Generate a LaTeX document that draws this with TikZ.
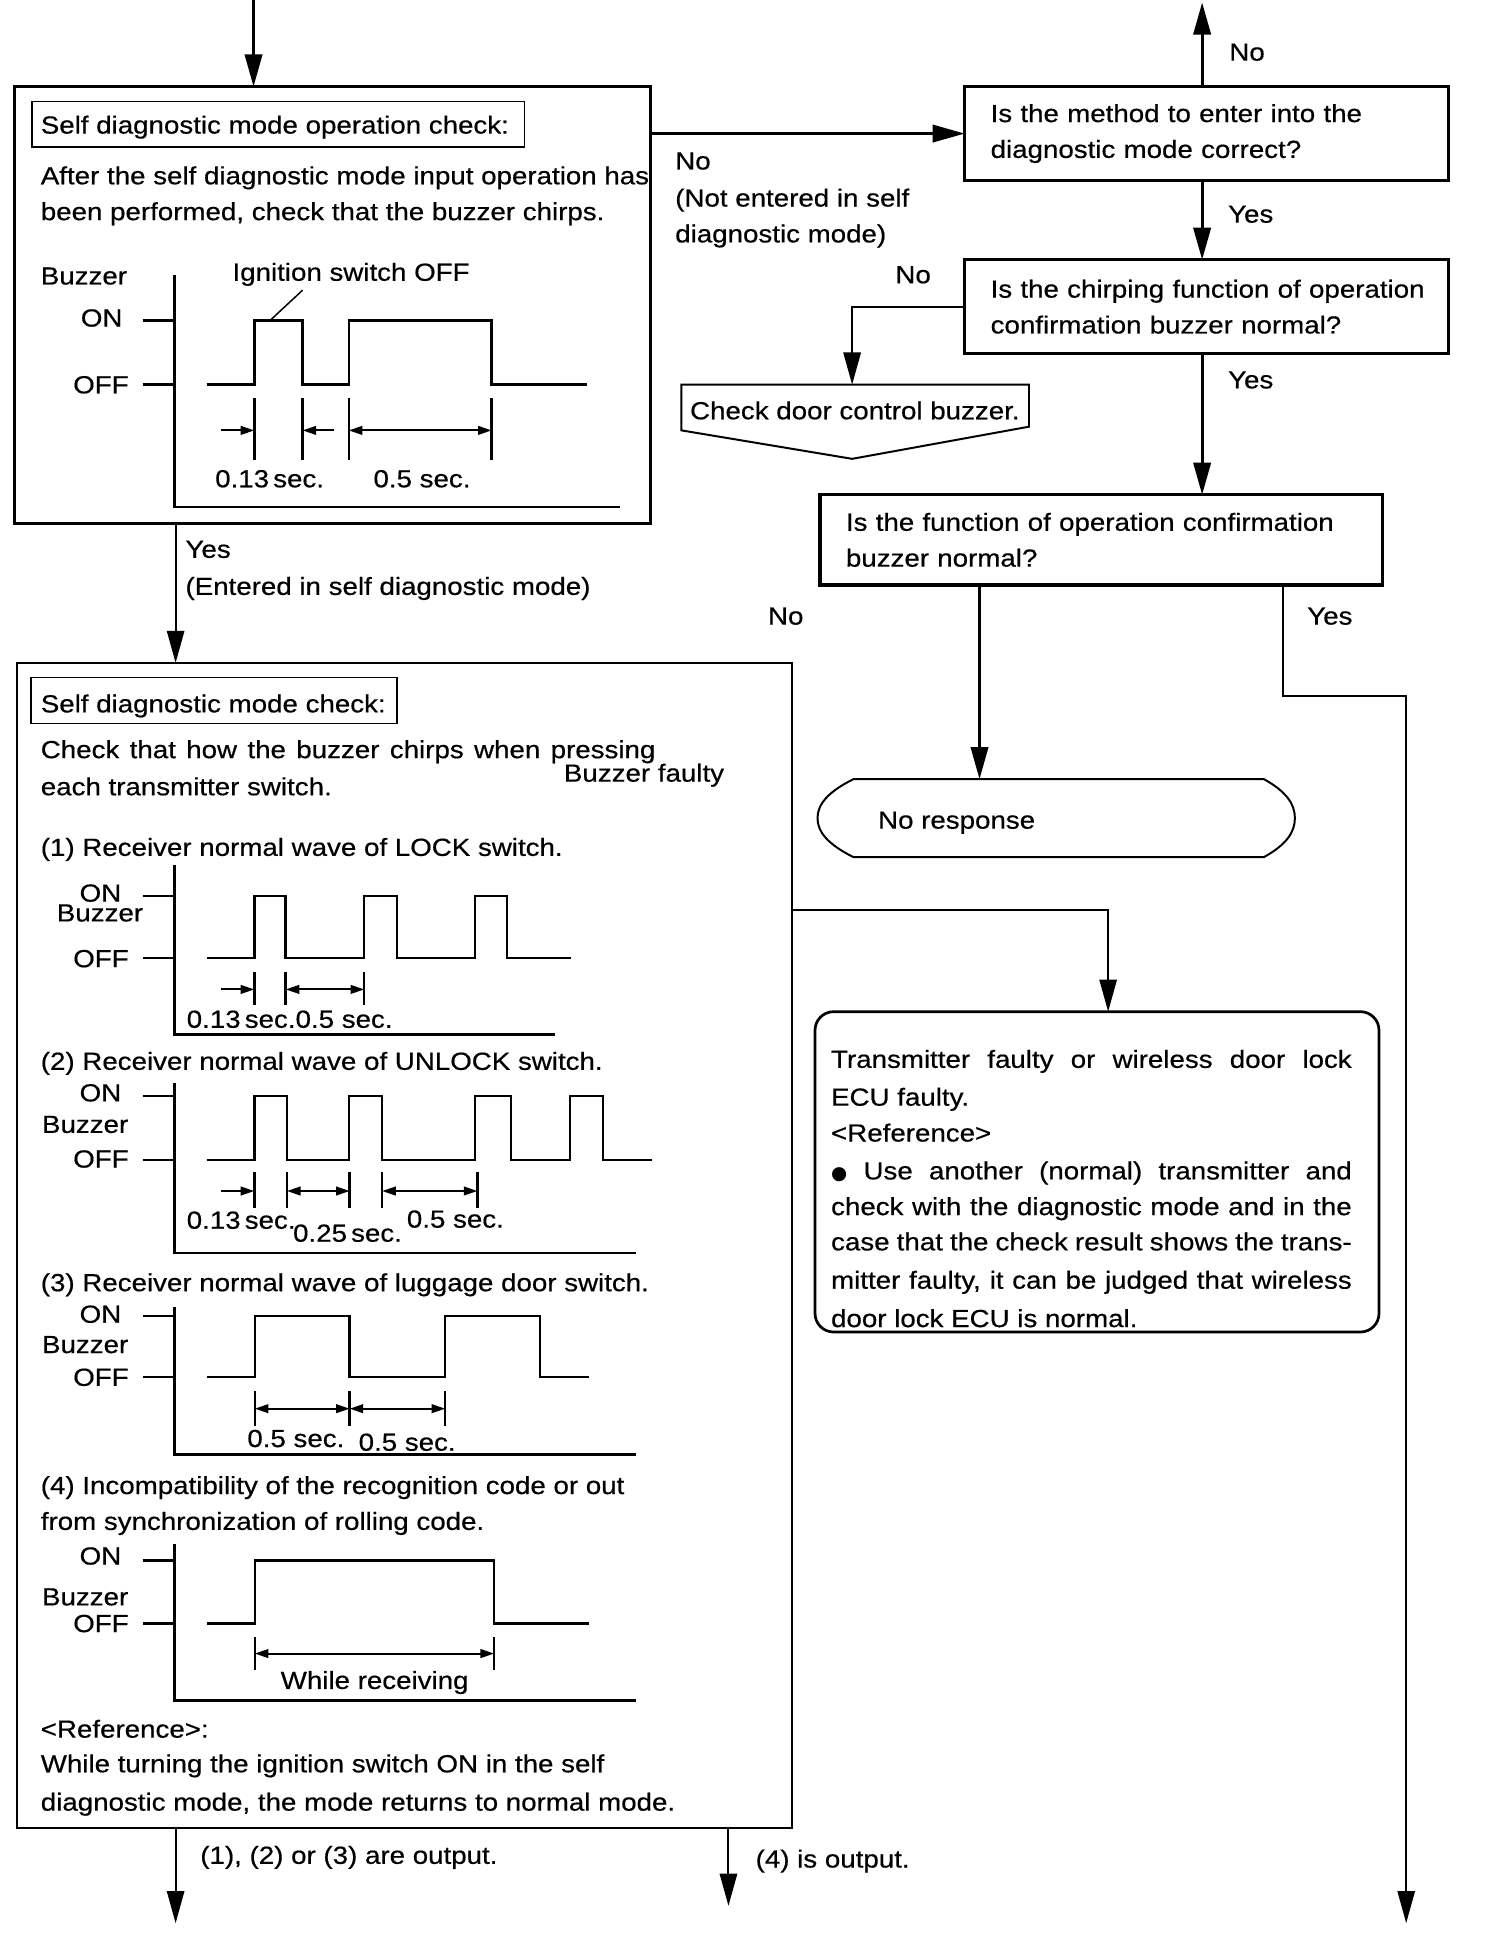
\documentclass[tikz,border=0pt]{standalone}
\usepackage{fontspec}
\setmainfont{Liberation Sans}[FakeStretch=1.12,FakeBold=0.5]
\newfontfamily\dejavu{DejaVu Sans}
\usetikzlibrary{arrows.meta}
\begin{document}
\begin{tikzpicture}[x=1pt,y=-1pt,
 every node/.style={inner sep=0pt, outer sep=0pt, font=\fontsize{20}{29}\selectfont},
 txt/.style={anchor=base west},
 txtr/.style={anchor=base east},
 bigbox/.style={draw, line width=2.6pt, anchor=north west},
 midbox/.style={draw, line width=1.6pt, anchor=north west},
 qbox/.style={draw, line width=2.6pt, anchor=north west, align=left, inner xsep=21pt},
 tbox/.style={draw, line width=1.2pt, anchor=north west},
 flow/.style={line width=2.4pt, -{Triangle[length=26pt,width=14pt]}},
 flowthin/.style={line width=1.6pt, -{Triangle[length=26pt,width=14pt]}},
 plain/.style={line width=1.6pt},
 wave/.style={line width=2pt, line join=miter},
 dim/.style={line width=1.6pt, -{Triangle[length=11pt,width=7pt]}},
 dimb/.style={line width=1.6pt, {Triangle[length=11pt,width=7pt]}-{Triangle[length=11pt,width=7pt]}},
]
\useasboundingbox (0,0) rectangle (1216,1567);

% ---------- boxes ----------
\node[bigbox, minimum width=514, minimum height=353] (b1) at (12,70) {};
\node[tbox, minimum width=398, minimum height=37] (t1) at (26,82) {};
\node[midbox, minimum width=626, minimum height=942] (b2) at (14,536) {};
\node[tbox, minimum width=296, minimum height=37] (t2) at (25,548) {};

\node[qbox, minimum width=391, minimum height=76, text width=349] (q1) at (780,70)
  {\mbox{Is the method to enter into the}\\\mbox{diagnostic mode correct?}};
\node[qbox, minimum width=391, minimum height=76, text width=349] (q2) at (780,210)
  {\mbox{Is the chirping function of operation}\\\mbox{confirmation buzzer normal?}};
\node[qbox, minimum width=455, minimum height=73, text width=413] (q3) at (663,400)
  {\makebox[408pt][s]{Is the function of operation confirmation}\\\mbox{buzzer normal?}};

% check door control buzzer (off-page shape)
\node[minimum width=281, minimum height=37, anchor=north west] (cd) at (551,311) {};
\draw[plain] (551,311) -- (832,311) -- (832,345) -- (689,371) -- (551,348) -- cycle;
\node[txt] (cdtxt) at (558,339) {Check door control buzzer.};

% no response terminal
\node[minimum width=386, minimum height=63, anchor=north west] (nr) at (661,630) {};
\draw[plain] (690,630) -- (1022,630) .. controls (1040,640) and (1047,650) .. (1047,661.5)
  .. controls (1047,673) and (1040,683) .. (1022,693) -- (690,693)
  .. controls (670,683) and (661,673) .. (661,661.5)
  .. controls (661,650) and (670,640) .. (690,630) -- cycle;
\node[txt] (nrtxt) at (710,670) {No response};

% transmitter box
\node[draw, line width=2.2pt, rounded corners=15pt, minimum width=456, minimum height=259, anchor=north west] (tr) at (659,818) {};
\node[txt] (tr1) at (672,863.4) {\makebox[421pt][s]{Transmitter faulty or wireless door lock}};
\node[txt] (tr2) at (672,894) {ECU faulty.};
\node[txt] (tr3) at (672,923) {<Reference>};
\node[txt] (tr4) at (672,953.6) {\makebox[421pt][s]{{\dejavu\fontsize{15}{15}\selectfont ●} Use another (normal) transmitter and}};
\node[txt] (tr5) at (672,982.5) {\makebox[421pt][s]{check with the diagnostic mode and in the}};
\node[txt] (tr6) at (672,1011) {\makebox[421pt][s]{case that the check result shows the trans-}};
\node[txt] (tr7) at (672,1042) {\makebox[421pt][s]{mitter faulty, it can be judged that wireless}};
\node[txt] (tr8) at (672,1073) {door lock ECU is normal.};

% ---------- connectors ----------
\coordinate (in1) at (205,0);
\draw[flow] (in1) -- (in1 |- b1.north);
\draw[flow] (b1.east |- q1.west) -- (q1.west);
\coordinate (cR) at (972,0);
\coordinate (outUp) at (972,2);
\draw[flow] (q1.north -| cR) -- (outUp);
\draw[flow] (q1.south -| cR) -- (q2.north -| cR);
\draw[flow] (q2.south -| cR) -- (q3.north -| cR);
\coordinate (cdx) at (689,0);
\draw[flowthin] (q2.west) -| (cdx |- cd.north);
\coordinate (cNo) at (792,0);
\draw[flow] (q3.south -| cNo) -- (cNo |- nr.north);
\coordinate (ybend1) at (1037,563);
\coordinate (ybend2) at (1137,563);
\coordinate (outR) at (1137,1555);
\draw[flowthin] (q3.south -| ybend1) -- (ybend1) -- (ybend2) -- (outR);
\coordinate (cL) at (142,0);
\draw[flowthin] (cL |- b1.south) -- (cL |- b2.north);
\coordinate (tb) at (896,736);
\draw[flowthin] (b2.east |- tb) -- (tb) -- (tb |- tr.north);
\coordinate (outL) at (142,1555);
\draw[flowthin] (cL |- b2.south) -- (outL);
\coordinate (out4) at (589,1541);
\draw[flowthin] (out4 |- b2.south) -- (out4);

% ---------- connector labels ----------
\node[txt] (lno0) at (994,49) {No};
\node[txt] (lno1) at (546,137) {No};
\node[txt] (lno1b) at (546,167) {(Not entered in self};
\node[txt] (lno1c) at (546,196) {diagnostic mode)};
\node[txt] (lyes1) at (993,180) {Yes};
\node[txt] (lno2) at (724,229) {No};
\node[txt] (lyes2) at (993,314) {Yes};
\node[txt] (lno3) at (621,505) {No};
\node[txt] (lyes3) at (1057,505) {Yes};
\node[txt] (lyesb) at (150,451) {Yes};
\node[txt] (lyesb2) at (150,481) {(Entered in self diagnostic mode)};
\node[txt] (lout1) at (162,1507) {(1), (2) or (3) are output.};
\node[txt] (lout4) at (611,1510) {(4) is output.};

% ---------- box 1 content ----------
\node[txt] (t1txt) at (33,108) {Self diagnostic mode operation check:};
\node[txt] (b1l1) at (33,149) {After the self diagnostic mode input operation has};
\node[txt] (b1l2) at (33,178) {been performed, check that the buzzer chirps.};
\node[txt] (c0buz) at (33,230) {Buzzer};
\node[txtr] (c0on) at (99,264) {ON};
\node[txtr] (c0off) at (104,318) {OFF};
\node[txt] (c0ign) at (188,227) {Ignition switch OFF};
\draw[wave] (141,222.5) -- (141,410) -- (501,410);
\draw[wave] (115.5,259) -- (141,259) (115.5,311) -- (141,311);
\draw[wave] (167,311) -- (205.6,311) -- (205.6,259) -- (244.7,259) -- (244.7,311) -- (282,311)
  -- (282,259) -- (397.5,259) -- (397.5,311) -- (475,311);
\draw[line width=1.2pt] (244.7,234.6) -- (219,258.5);
\draw[wave] (205.6,322) -- (205.6,372) (244.7,322) -- (244.7,372) (282,322) -- (282,372) (397.5,322) -- (397.5,372);
\draw[dim] (179,348) -- (205.6,348);
\draw[dim] (270,348) -- (244.7,348);
\draw[dimb] (282,348) -- (397.5,348);
\node[txt] (c0d1) at (174,394) {0.13\,sec.};
\node[txt] (c0d2) at (302,394) {0.5 sec.};

% ---------- box 2 content ----------
\node[txt] (t2txt) at (33,576) {Self diagnostic mode check:};
\node[txt] (b2l1) at (33,613) {\makebox[497pt][s]{Check that how the buzzer chirps when pressing}};
\node[txt] (b2l2) at (33,643) {each transmitter switch.};
\node[txt] (bfault) at (456,632) {Buzzer faulty};

% (1)
\node[txt] (h1) at (33,692) {(1) Receiver normal wave of LOCK switch.};
\node[txtr] (c1on) at (98,729) {ON};
\node[txt] (c1buz) at (46,745) {Buzzer};
\node[txtr] (c1off) at (104,782) {OFF};
\draw[wave] (141,699) -- (141,836.5) -- (449,836.5);
\draw[wave] (115.5,724.6) -- (141,724.6) (115.5,774.5) -- (141,774.5);
\draw[wave] (167,774.5) -- (205.6,774.5) -- (205.6,724.6) -- (231,724.6) -- (231,774.5) -- (294.5,774.5)
  -- (294.5,724.6) -- (321,724.6) -- (321,774.5) -- (384,774.5) -- (384,724.6) -- (410,724.6)
  -- (410,774.5) -- (462,774.5);
\draw[wave] (205.6,786) -- (205.6,813) (231,786) -- (231,813) (294.5,786) -- (294.5,813);
\draw[dim] (179,800) -- (205.6,800);
\draw[dimb] (231,800) -- (294.5,800);
\node[txt] (c1d1) at (151,831) {0.13\,sec.};
\node[txt] (c1d2) at (239,831) {0.5 sec.};

% (2)
\node[txt] (h2) at (33,865) {(2) Receiver normal wave of UNLOCK switch.};
\node[txtr] (c2on) at (98,890.5) {ON};
\node[txt] (c2buz) at (34,916) {Buzzer};
\node[txtr] (c2off) at (104,944) {OFF};
\draw[wave] (141,876) -- (141,1013) -- (514,1013);
\draw[wave] (115.5,886) -- (141,886) (115.5,938) -- (141,938);
\draw[wave] (167,938) -- (205.6,938) -- (205.6,886) -- (232,886) -- (232,938) -- (282,938) -- (282,886)
  -- (309,886) -- (309,938) -- (384,938) -- (384,886) -- (413,886) -- (413,938) -- (461,938)
  -- (461,886) -- (487.5,886) -- (487.5,938) -- (527,938);
\draw[wave] (205.6,948) -- (205.6,977) (232,948) -- (232,977) (282.7,948) -- (282.7,977)
  (309,948) -- (309,977) (386,948) -- (386,977);
\draw[dim] (179,963) -- (205.6,963);
\draw[dimb] (232,963) -- (282.7,963);
\draw[dimb] (309,963) -- (386,963);
\node[txt] (c2d1) at (151,993.5) {0.13\,sec.};
\node[txt] (c2d2) at (237,1004) {0.25\,sec.};
\node[txt] (c2d3) at (329,992.6) {0.5 sec.};

% (3)
\node[txt] (h3) at (33,1044) {(3) Receiver normal wave of luggage door switch.};
\node[txtr] (c3on) at (98,1069.5) {ON};
\node[txt] (c3buz) at (34,1094) {Buzzer};
\node[txtr] (c3off) at (104,1120.5) {OFF};
\draw[wave] (141,1057) -- (141,1176) -- (514,1176);
\draw[wave] (115.5,1064) -- (141,1064) (115.5,1113.5) -- (141,1113.5);
\draw[wave] (167,1113.5) -- (206,1113.5) -- (206,1064) -- (282.7,1064) -- (282.7,1113.5) -- (360,1113.5)
  -- (360,1064) -- (436.6,1064) -- (436.6,1113.5) -- (476,1113.5);
\draw[wave] (206,1125) -- (206,1153) (282.7,1125) -- (282.7,1153) (360,1125) -- (360,1153);
\draw[dimb] (206,1139) -- (282.7,1139);
\draw[dimb] (282.7,1139) -- (360,1139);
\node[txt] (c3d1) at (200,1170) {0.5 sec.};
\node[txt] (c3d2) at (290,1173) {0.5 sec.};

% (4)
\node[txt] (h4a) at (33,1208) {(4) Incompatibility of the recognition code or out};
\node[txt] (h4b) at (33,1237) {from synchronization of rolling code.};
\node[txtr] (c4on) at (98,1265) {ON};
\node[txt] (c4buz) at (34,1298) {Buzzer};
\node[txtr] (c4off) at (104,1319.6) {OFF};
\draw[wave] (141,1248.5) -- (141,1375) -- (514,1375);
\draw[wave] (115.5,1261.6) -- (141,1261.6) (115.5,1312.6) -- (141,1312.6);
\draw[wave] (167,1312.6) -- (206,1312.6) -- (206,1261.6) -- (399.5,1261.6) -- (399.5,1312.6) -- (476,1312.6);
\draw[wave] (206,1324) -- (206,1350) (399.5,1324) -- (399.5,1350);
\draw[dimb] (206,1337) -- (399.5,1337);
\node[txt] (c4d) at (227,1365.6) {While receiving};

\node[txt] (r1) at (33,1405) {<Reference>:};
\node[txt] (r2) at (33,1433) {While turning the ignition switch ON in the self};
\node[txt] (r3) at (33,1464) {diagnostic mode, the mode returns to normal mode.};
\end{tikzpicture}
\end{document}
